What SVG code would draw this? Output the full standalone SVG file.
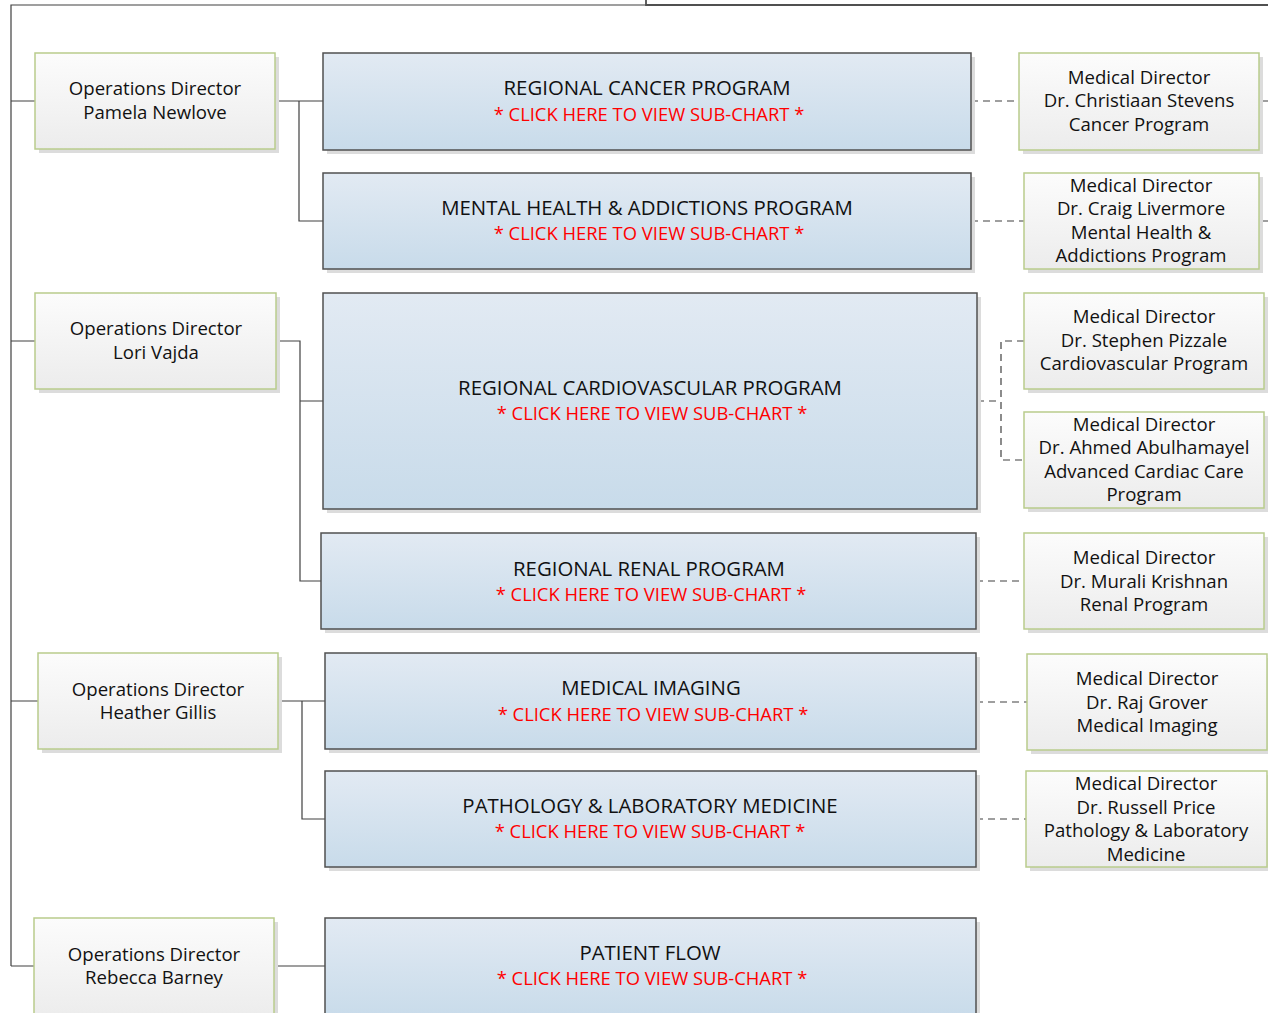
<svg xmlns="http://www.w3.org/2000/svg" width="1268" height="1013" viewBox="0 0 1268 1013">
<defs>
<linearGradient id="gOps" x1="0" y1="0" x2="0" y2="1"><stop offset="0" stop-color="#fcfcfc"/><stop offset="1" stop-color="#ececec"/></linearGradient>
<linearGradient id="gProg" x1="0" y1="0" x2="0" y2="1"><stop offset="0" stop-color="#e2eaf3"/><stop offset="1" stop-color="#c8dbea"/></linearGradient>
<style>
.sh{fill:#dcdcdc}
.ops{fill:url(#gOps);stroke:#b9cc8c;stroke-width:1.5}
.prog{fill:url(#gProg);stroke:#505050;stroke-width:1.5}
.t{font-family:"Open Sans","Liberation Sans",sans-serif;font-size:18.6px;fill:#111;text-anchor:middle}
.tp{font-family:"Open Sans","Liberation Sans",sans-serif;font-size:20.4px;fill:#111;text-anchor:middle}
.r{font-family:"Open Sans","Liberation Sans",sans-serif;font-size:18.4px;fill:#ff0000;text-anchor:middle}
.c{fill:none;stroke:#404040;stroke-width:1.2}
.d{fill:none;stroke:#404040;stroke-width:1.2;stroke-dasharray:7,5}
</style>
</defs>
<rect width="1268" height="1013" fill="#fff"/>
<g id="connectors">
<path class="c" d="M646 5H11V966"/>
<path class="c" d="M11 101H35M11 341H35M11 701H38M11 966H34"/>
<path class="c" d="M275 101H323M299 101V221H323"/>
<path class="c" d="M276 341H300V581H321M300 401H323"/>
<path class="c" d="M278 701H325M302 701V819H325"/>
<path class="c" d="M274 966H325"/>
<path class="d" d="M971 101H1019M971 221H1024M977 401H1001M1024 341H1001V460H1024M976 581H1024M976 702H1027M976 819H1026"/>
<path class="c" d="M1259 101H1268M1259 221H1268M1264 341H1268M1264 460H1268M1264 581H1268"/>
</g>
<g id="root"><path d="M646 0V5H1268" fill="none" stroke="#505050" stroke-width="1.8"/></g>
<g id="ops-pamela"><rect class="sh" x="39" y="57" width="240" height="96"/><rect class="ops" x="35" y="53" width="240" height="96"/><text class="t" x="155" y="95">Operations Director</text><text class="t" x="155" y="119">Pamela Newlove</text></g>
<g id="ops-lori"><rect class="sh" x="39" y="297" width="241" height="96"/><rect class="ops" x="35" y="293" width="241" height="96"/><text class="t" x="156" y="335">Operations Director</text><text class="t" x="156" y="359">Lori Vajda</text></g>
<g id="ops-heather"><rect class="sh" x="42" y="657" width="240" height="96"/><rect class="ops" x="38" y="653" width="240" height="96"/><text class="t" x="158" y="696">Operations Director</text><text class="t" x="158" y="719">Heather Gillis</text></g>
<g id="ops-rebecca"><rect class="sh" x="38" y="922" width="240" height="96"/><rect class="ops" x="34" y="918" width="240" height="100"/><text class="t" x="154" y="961">Operations Director</text><text class="t" x="154" y="984">Rebecca Barney</text></g>
<g id="prog-cancer"><rect class="sh" x="327" y="57" width="648" height="97"/><rect class="prog" x="323" y="53" width="648" height="97"/><text class="tp" x="647" y="95">REGIONAL CANCER PROGRAM</text><text class="r" x="649" y="121">* CLICK HERE TO VIEW SUB-CHART *</text></g>
<g id="prog-mental"><rect class="sh" x="327" y="177" width="648" height="96"/><rect class="prog" x="323" y="173" width="648" height="96"/><text class="tp" x="647" y="215">MENTAL HEALTH &amp; ADDICTIONS PROGRAM</text><text class="r" x="649" y="240">* CLICK HERE TO VIEW SUB-CHART *</text></g>
<g id="prog-cardio"><rect class="sh" x="327" y="297" width="654" height="216"/><rect class="prog" x="323" y="293" width="654" height="216"/><text class="tp" x="650" y="395">REGIONAL CARDIOVASCULAR PROGRAM</text><text class="r" x="652" y="420">* CLICK HERE TO VIEW SUB-CHART *</text></g>
<g id="prog-renal"><rect class="sh" x="325" y="537" width="655" height="96"/><rect class="prog" x="321" y="533" width="655" height="96"/><text class="tp" x="649" y="576">REGIONAL RENAL PROGRAM</text><text class="r" x="651" y="601">* CLICK HERE TO VIEW SUB-CHART *</text></g>
<g id="prog-imaging"><rect class="sh" x="329" y="657" width="651" height="96"/><rect class="prog" x="325" y="653" width="651" height="96"/><text class="tp" x="651" y="695">MEDICAL IMAGING</text><text class="r" x="653" y="721">* CLICK HERE TO VIEW SUB-CHART *</text></g>
<g id="prog-pathology"><rect class="sh" x="329" y="775" width="651" height="96"/><rect class="prog" x="325" y="771" width="651" height="96"/><text class="tp" x="650" y="813">PATHOLOGY &amp; LABORATORY MEDICINE</text><text class="r" x="650" y="838">* CLICK HERE TO VIEW SUB-CHART *</text></g>
<g id="prog-flow"><rect class="sh" x="329" y="922" width="651" height="100"/><rect class="prog" x="325" y="918" width="651" height="100"/><text class="tp" x="650" y="960">PATIENT FLOW</text><text class="r" x="652" y="985">* CLICK HERE TO VIEW SUB-CHART *</text></g>
<g id="md-stevens"><rect class="sh" x="1023" y="57" width="240" height="97"/><rect class="ops" x="1019" y="53" width="240" height="97"/><text class="t" x="1139" y="84">Medical Director</text><text class="t" x="1139" y="107">Dr. Christiaan Stevens</text><text class="t" x="1139" y="131">Cancer Program</text></g>
<g id="md-livermore"><rect class="sh" x="1028" y="177" width="235" height="96"/><rect class="ops" x="1024" y="173" width="235" height="96"/><text class="t" x="1141" y="192">Medical Director</text><text class="t" x="1141" y="215">Dr. Craig Livermore</text><text class="t" x="1141" y="239">Mental Health &amp;</text><text class="t" x="1141" y="262">Addictions Program</text></g>
<g id="md-pizzale"><rect class="sh" x="1028" y="297" width="240" height="96"/><rect class="ops" x="1024" y="293" width="240" height="96"/><text class="t" x="1144" y="323">Medical Director</text><text class="t" x="1144" y="347">Dr. Stephen Pizzale</text><text class="t" x="1144" y="370">Cardiovascular Program</text></g>
<g id="md-abulhamayel"><rect class="sh" x="1028" y="416" width="240" height="96"/><rect class="ops" x="1024" y="412" width="240" height="96"/><text class="t" x="1144" y="431">Medical Director</text><text class="t" x="1144" y="454">Dr. Ahmed Abulhamayel</text><text class="t" x="1144" y="478">Advanced Cardiac Care</text><text class="t" x="1144" y="501">Program</text></g>
<g id="md-krishnan"><rect class="sh" x="1028" y="537" width="240" height="96"/><rect class="ops" x="1024" y="533" width="240" height="96"/><text class="t" x="1144" y="564">Medical Director</text><text class="t" x="1144" y="588">Dr. Murali Krishnan</text><text class="t" x="1144" y="611">Renal Program</text></g>
<g id="md-grover"><rect class="sh" x="1031" y="658" width="240" height="96"/><rect class="ops" x="1027" y="654" width="240" height="96"/><text class="t" x="1147" y="685">Medical Director</text><text class="t" x="1147" y="709">Dr. Raj Grover</text><text class="t" x="1147" y="732">Medical Imaging</text></g>
<g id="md-price"><rect class="sh" x="1030" y="775" width="241" height="96"/><rect class="ops" x="1026" y="771" width="241" height="96"/><text class="t" x="1146" y="790">Medical Director</text><text class="t" x="1146" y="814">Dr. Russell Price</text><text class="t" x="1146" y="837">Pathology &amp; Laboratory</text><text class="t" x="1146" y="861">Medicine</text></g>
</svg>
